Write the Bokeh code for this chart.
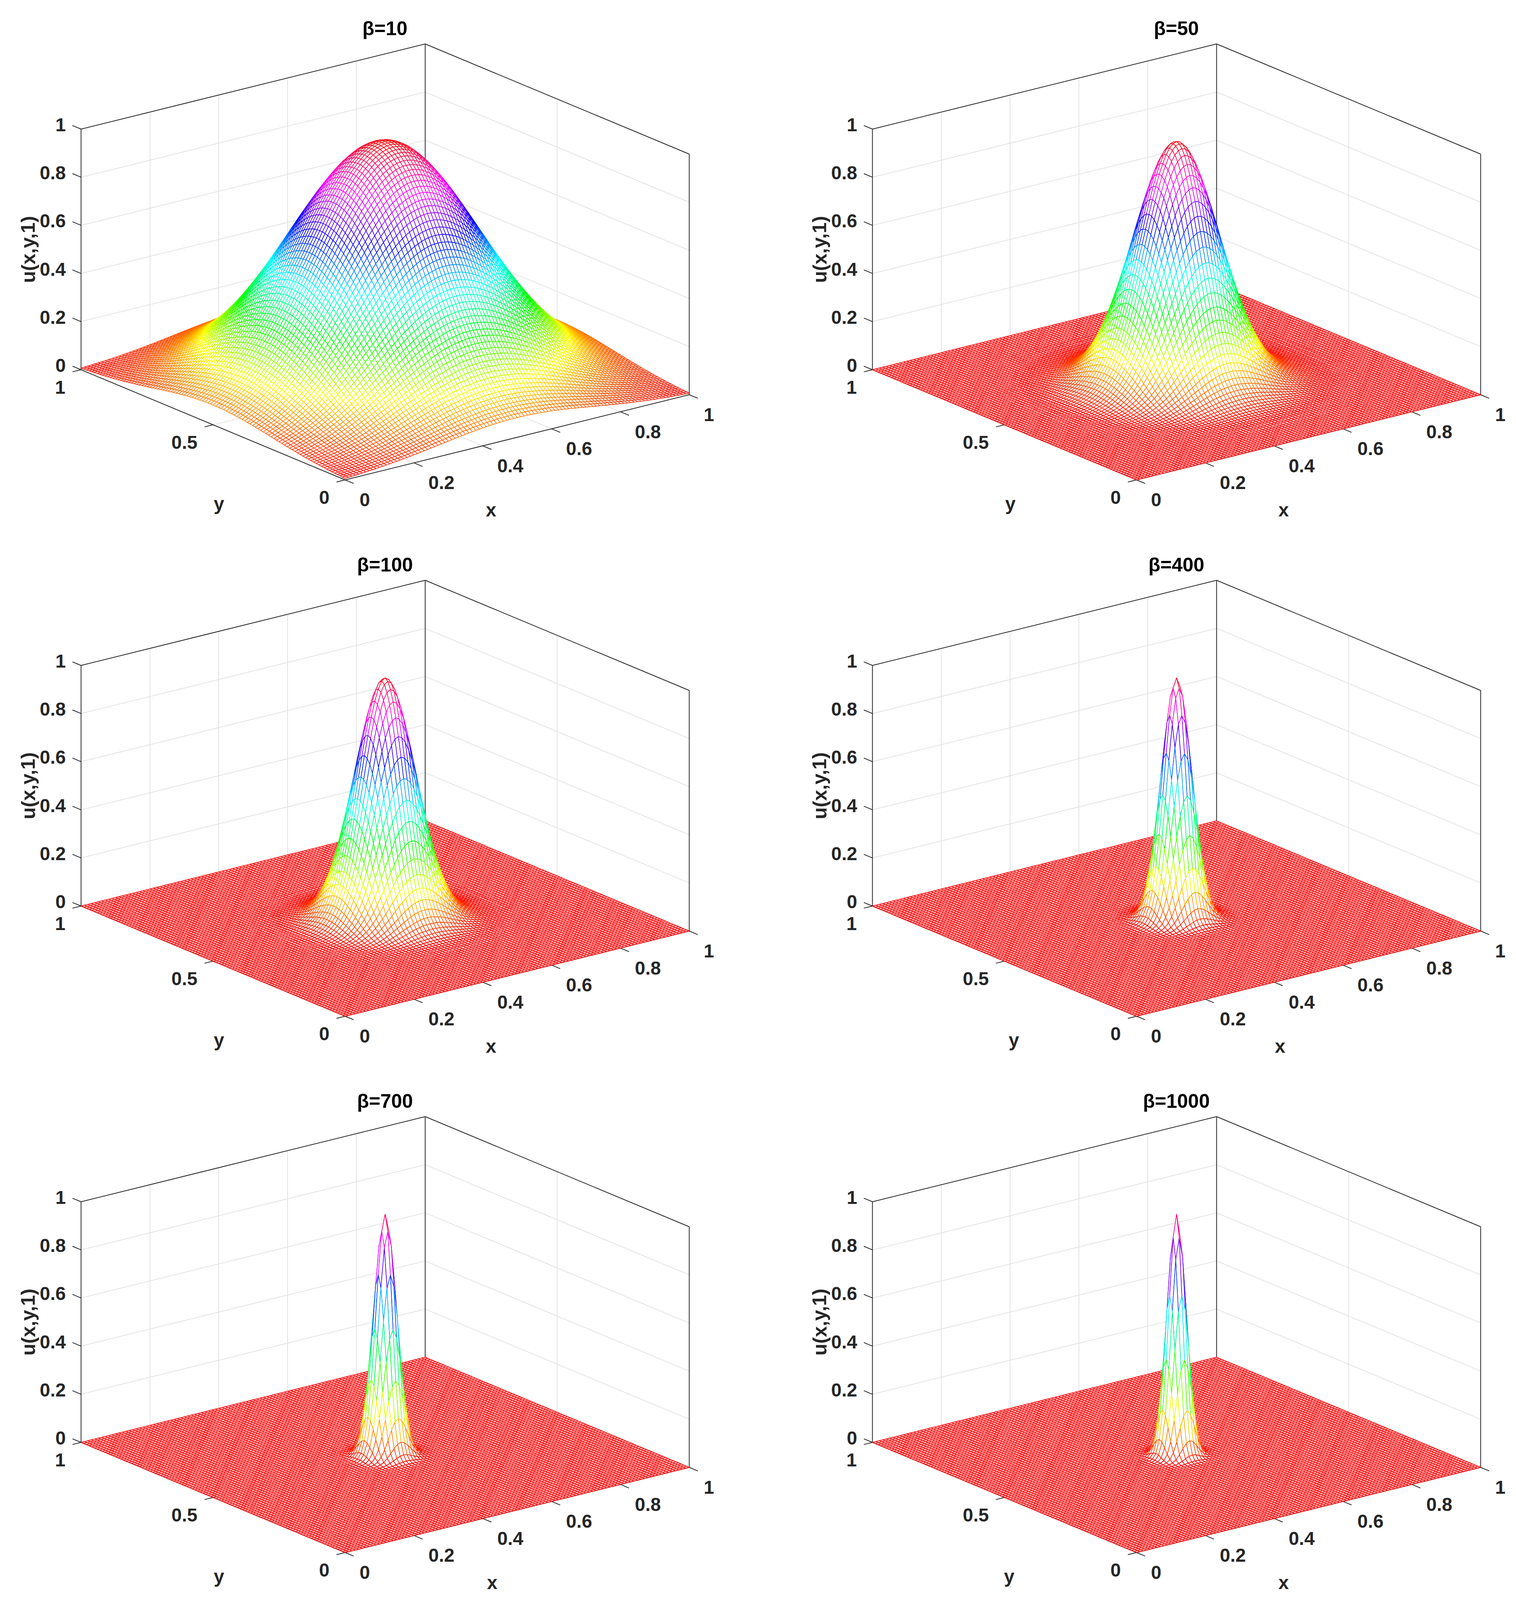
import colorsys
from bokeh.core.properties import value
from bokeh.embed import file_html
from bokeh.resources import INLINE
from bokeh.layouts import column, row
from bokeh.models import Range1d
from bokeh.plotting import figure

# ---- data ----------------------------------------------------------------
titles = ["β=10", "β=50", "β=100", "β=400", "β=700", "β=1000"]

# u along a line through the centre of the peak, grid step 0.01, from the
# centre (distance 0) outward; beyond the end of a list the surface is at 0.
profile_10 = [1, .999, .996, .991, .984, .975, .965, .952, .938, .922, .905, .886, .866, .845, .822, .799, .774,
              .749, .723, .697, .670, .643, .616, .589, .562, .535, .509, .482, .457, .431, .407, .383, .359,
              .337, .315, .294, .274, .254, .236, .219, .202, .186, .171, .157, .144, .132, .120, .110, .100,
              .091, .082]
profile_50 = [1, .995, .980, .956, .923, .882, .835, .783, .726, .667, .607, .546, .487, .430, .375, .325, .278,
              .236, .198, .164, .135, .110, .089, .071, .056, .044, .034, .026, .020, .015, .011, .008, .006,
              .004, .003, .002, .002, .001, .001]
profile_100 = [1, .990, .961, .914, .852, .779, .698, .613, .527, .445, .368, .298, .237, .185, .141, .105, .077,
               .056, .039, .027, .018, .012, .008, .005, .003, .002, .001, .001]
profile_400 = [1, .961, .852, .698, .527, .368, .237, .141, .077, .039, .018, .008, .003, .001]
profile_700 = [1, .932, .756, .533, .326, .174, .080, .032, .011, .003, .001]
profile_1000 = [1, .905, .670, .407, .202, .082, .027, .007, .002]
profiles = [profile_10, profile_50, profile_100, profile_400, profile_700, profile_1000]

x_ticks = [0, .2, .4, .6, .8, 1]
x_tick_labels = ["0", "0.2", "0.4", "0.6", "0.8", "1"]
y_ticks = [0, .5, 1]
y_tick_labels = ["0", "0.5", "1"]
z_ticks = [0, .2, .4, .6, .8, 1]
z_tick_labels = ["0", "0.2", "0.4", "0.6", "0.8", "1"]

# ---- view and layout -----------------------------------------------------
FIG_W, FIG_H = 1932, 1360
PITCH_X, PITCH_Y = 2026, 1373
FRONT_X, FRONT_Y = 883, 1228      # where the corner x=0, y=0, z=0 sits on the page
N = 100
FLOOR = .002
INK = "#262626"
GRID = "#e3e3e3"
LABEL_FONT = value("Liberation Sans")
FLOOR_WIDTH = 1.9
MESH_WIDTH = 1.6
x_label_dx = [0, 3, 0, -6, 3, 3]
y_label_dx = [0, 0, 0, 9, 0, -3]


def px(x, y):
    return 881 * x - 676 * y


def py(x, y, z):
    return 218 * x + 282 * y + 616 * z


def colour(z):
    r, g, b = colorsys.hsv_to_rgb(min(z, .9999), 1, 1)
    return "#%02x%02x%02x" % (round(r * 255), round(g * 255), round(b * 255))


def full_profile(half):
    out = []
    for i in range(N + 1):
        k = abs(i - N // 2)
        out.append(half[k] if k < len(half) else 0.0)
    return out


def lines(p, ends, color, width):
    p.multi_line(xs=[[round(px(a[0], a[1]), 1), round(px(b[0], b[1]), 1)] for a, b in ends],
                 ys=[[round(py(*a), 1), round(py(*b), 1)] for a, b in ends],
                 line_color=color, line_width=width)


def panel(idx):
    c, r = idx % 2, idx // 2
    left, top = c * FIG_W, r * FIG_H
    ox, oy = FRONT_X + c * PITCH_X, FRONT_Y + r * PITCH_Y
    x0 = left - ox
    y1 = oy - top
    p = figure(width=FIG_W, height=FIG_H, output_backend="svg", toolbar_location=None,
               x_range=Range1d(x0, x0 + FIG_W), y_range=Range1d(y1 - FIG_H, y1),
               x_axis_type=None, y_axis_type=None, min_border=0, outline_line_color=None)
    p.grid.visible = False

    # walls and floor grid
    g = []
    for z in z_ticks[1:-1]:
        g += [((0, 1, z), (1, 1, z)), ((1, 1, z), (1, 0, z))]
    for x in x_ticks[1:-1]:
        g += [((x, 1, 0), (x, 1, 1)), ((x, 0, 0), (x, 1, 0))]
    for y in y_ticks[1:-1]:
        g += [((1, y, 0), (1, y, 1)), ((0, y, 0), (1, y, 0))]
    g += [((0, 1, 0), (1, 1, 0)), ((1, 1, 0), (1, 0, 0))]
    lines(p, g, GRID, 2)

    # box and ticks
    b = [((0, 1, 0), (0, 1, 1)), ((0, 1, 1), (1, 1, 1)), ((1, 1, 1), (1, 0, 1)), ((1, 1, 0), (1, 1, 1)),
         ((1, 0, 0), (1, 0, 1)), ((0, 1, 0), (0, 0, 0)), ((0, 0, 0), (1, 0, 0))]
    for x in x_ticks:
        b.append(((x, 0, 0), (x, -.0325, 0)))
    for y in y_ticks:
        b.append(((0, y, 0), (-.025, y, 0)))
    for z in z_ticks:
        b.append(((0, 1, z), (0, 1.0325, z)))
    lines(p, b, INK, 2)

    # surface
    prof = full_profile(profiles[idx])
    U = [[prof[i] * prof[j] for j in range(N + 1)] for i in range(N + 1)]
    fx, fy = [], []

    def flush(run):
        if len(run) > 1:
            fx.append([round(px(a, b), 1) for a, b, _ in run])
            fy.append([round(py(a, b, u), 1) for a, b, u in run])

    for i in range(N + 1):
        run_a, run_b = [], []
        for j in range(N + 1):
            if U[i][j] < FLOOR:
                run_a.append((i / N, j / N, U[i][j]))
            else:
                flush(run_a)
                run_a = []
            if U[j][i] < FLOOR:
                run_b.append((j / N, i / N, U[j][i]))
            else:
                flush(run_b)
                run_b = []
        flush(run_a)
        flush(run_b)
    if fx:
        p.multi_line(xs=fx, ys=fy, line_color="#ff0000", line_width=FLOOR_WIDTH)

    qx, qy, qc, qw = [], [], [], []
    for i in range(N - 1, -1, -1):
        for j in range(N - 1, -1, -1):
            corners = [(i, j), (i + 1, j), (i + 1, j + 1), (i, j + 1)]
            zs = [U[a][b] for a, b in corners]
            if max(zs) < FLOOR:
                continue
            qx.append([round(px(a / N, b / N), 1) for a, b in corners])
            qy.append([round(py(a / N, b / N, U[a][b]), 1) for a, b in corners])
            mean = sum(zs) / 4
            qc.append(colour(mean))
            qw.append(round(FLOOR_WIDTH - (FLOOR_WIDTH - MESH_WIDTH) * min(1, mean / .02), 2))
    if qx:
        p.patches(xs=qx, ys=qy, fill_color="white", line_color=qc, line_width=qw, line_join="round")

    # texts
    style = dict(text_font=LABEL_FONT, text_font_style="bold", text_font_size="48px", text_color=INK,
                 text_baseline="middle")
    p.text(x=[px(0, 1)] * len(z_ticks), y=[py(0, 1, z) for z in z_ticks], text=z_tick_labels,
           text_align="right", x_offset=-39, y_offset=-11, **style)
    p.text(x=[px(0, y) for y in y_ticks], y=[py(0, y, 0) for y in y_ticks], text=y_tick_labels,
           text_align="right", x_offset=-40, y_offset=45, **style)
    p.text(x=[px(x, 0) for x in x_ticks], y=[py(x, 0, 0) for x in x_ticks], text=x_tick_labels,
           text_align="left", x_offset=37, y_offset=51, **style)
    p.text(x=[px(.5, 0)], y=[py(.5, 0, 0)], text=["x"], text_align="center",
           x_offset=-67 + x_label_dx[idx], y_offset=186, **style)
    p.text(x=[px(0, .5)], y=[py(0, .5, 0)], text=["y"], text_align="center",
           x_offset=15 + y_label_dx[idx], y_offset=202, **style)
    p.text(x=[px(0, 1)], y=[py(0, 1, .5)], text=["u(x,y,1)"], text_align="center", angle=1.5708,
           x_offset=-135, y_offset=0, text_font=LABEL_FONT, text_font_style="bold",
           text_font_size="50px", text_color=INK, text_baseline="middle")
    p.text(x=[px(1, 1)], y=[py(1, 1, 1)], text=[titles[idx]], text_align="center", x_offset=-103, y_offset=-40,
           text_font=LABEL_FONT, text_font_style="bold", text_font_size="50px", text_color="#000000",
           text_baseline="middle")
    return p


figs = [panel(i) for i in range(6)]
page = column(row(figs[0], figs[1]), row(figs[2], figs[3]), row(figs[4], figs[5]))
open("out.html", "w").write(file_html(page, INLINE))
